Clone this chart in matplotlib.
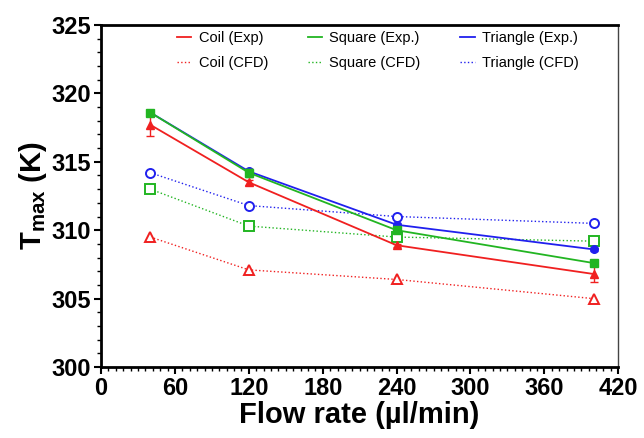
import numpy as np
import matplotlib
matplotlib.use("Agg")
import matplotlib.pyplot as plt
from matplotlib.lines import Line2D
from matplotlib.ticker import MultipleLocator

plt.rcParams['font.family'] = ['Liberation Sans', 'DejaVu Sans']
plt.rcParams['mathtext.fontset'] = 'custom'
plt.rcParams['mathtext.bf'] = 'Liberation Sans:bold'
plt.rcParams['mathtext.rm'] = 'Liberation Sans'

# Data
flow = [40, 120, 240, 400]
coil_exp = [317.7, 313.5, 308.9, 306.8]
coil_exp_err = [0.8, 0.2, 0.1, 0.6]
square_exp = [318.6, 314.2, 310.0, 307.6]
square_exp_err = [0.1, 0.3, 0.2, 0.1]
tri_exp = [318.6, 314.3, 310.4, 308.6]
tri_exp_err = [0.1, 0.2, 0.1, 0.1]
coil_cfd = [309.5, 307.1, 306.4, 305.0]
square_cfd = [313.0, 310.3, 309.5, 309.2]
tri_cfd = [314.2, 311.8, 311.0, 310.5]

red = '#f02020'
green = '#22b522'
blue = '#2020ee'

fig = plt.figure(figsize=(6.44, 4.38), dpi=100)
ax = fig.add_axes([0.157, 0.162, 0.803, 0.781])

# Experimental (solid, filled markers)
ax.errorbar(flow, coil_exp, yerr=coil_exp_err, color=red, marker='^', ms=6,
            lw=1.3, capsize=3, elinewidth=1, zorder=3)
ax.errorbar(flow, square_exp, yerr=square_exp_err, color=green, marker='s', ms=6,
            lw=1.3, capsize=3, elinewidth=1, zorder=3)
ax.errorbar(flow, tri_exp, yerr=tri_exp_err, color=blue, marker='o', ms=5.5,
            lw=1.3, capsize=3, elinewidth=1, zorder=2)

# CFD (dotted, open markers)
ax.plot(flow, coil_cfd, color=red, ls=':', lw=1, marker='^', ms=6.5, mfc='white', mew=1.4)
ax.plot(flow, square_cfd, color=green, ls=':', lw=1, marker='s', ms=6.5, mfc='white', mew=1.4)
ax.plot(flow, tri_cfd, color=blue, ls=':', lw=1, marker='o', ms=6.5, mfc='white', mew=1.4)

ax.set_xlim(0, 420)
ax.set_ylim(300, 325)
ax.xaxis.set_major_locator(MultipleLocator(60))
ax.xaxis.set_minor_locator(MultipleLocator(6))
ax.yaxis.set_major_locator(MultipleLocator(5))
ax.yaxis.set_minor_locator(MultipleLocator(1))

for lab in ax.get_xticklabels() + ax.get_yticklabels():
    lab.set_fontweight('bold')
ax.tick_params(axis='both', which='major', labelsize=17, width=1.5, length=5, pad=2)
ax.tick_params(axis='both', which='minor', width=1, length=3)

for s in ['left', 'bottom', 'top']:
    ax.spines[s].set_linewidth(2)
    ax.spines[s].set_color('black')
ax.spines['right'].set_linewidth(1)
ax.spines['right'].set_color('#444444')

ax.set_xlabel('Flow rate (\u00b5l/min)', fontsize=21, fontweight='bold', labelpad=1)
ax.set_ylabel('$\\mathbf{T_{max}}$ (K)', fontsize=21, fontweight='bold', labelpad=2)

handles = [
    Line2D([], [], color=red, lw=1.3),
    Line2D([], [], color=red, lw=1, ls=':'),
    Line2D([], [], color=green, lw=1.3),
    Line2D([], [], color=green, lw=1, ls=':'),
    Line2D([], [], color=blue, lw=1.3),
    Line2D([], [], color=blue, lw=1, ls=':'),
]
labels = ['Coil (Exp)', 'Coil (CFD)', 'Square (Exp.)', 'Square (CFD)',
          'Triangle (Exp.)', 'Triangle (CFD)']
ax.legend(handles, labels, ncol=3, loc='upper center', bbox_to_anchor=(0.535, 1.02),
          frameon=False, fontsize=10.5, handlelength=1.0, handletextpad=0.5,
          columnspacing=2.7, labelspacing=0.75)

fig.savefig('out.png', dpi=100)
